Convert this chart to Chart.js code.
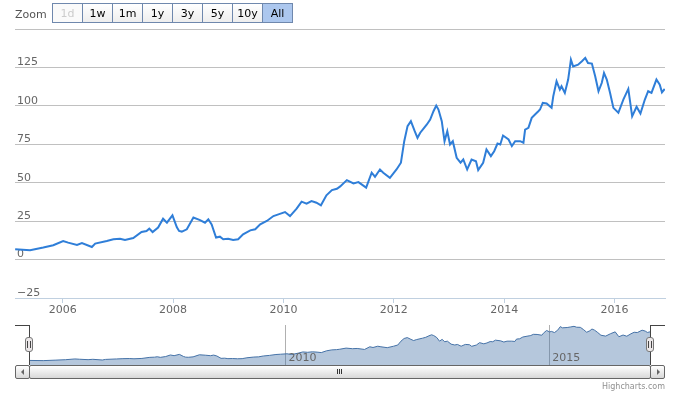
<!DOCTYPE html>
<html>
<head>
<meta charset="utf-8">
<script src="https://cdn.jsdelivr.net/npm/chart.js@4.4.0/dist/chart.umd.min.js"></script>
<style>
body { margin: 0; background: #fff; }
#wrap { position: relative; width: 673px; height: 395px; overflow: hidden; font-family: "DejaVu Sans", sans-serif; }
#main { position: absolute; left: 0; top: 0; }
#nav { position: absolute; left: 0; top: 320px; }
#zoomLbl { position: absolute; left: 15px; top: 8px; font-size: 11px; color: #555; line-height: 14px; }
.btn { position: absolute; top: 3px; width: 31px; height: 20px; box-sizing: border-box; border: 1px solid #6f88ad;
  background: linear-gradient(#ffffff, #eeeeee); font-size: 11px; line-height: 17px; padding-top: 1px; text-align: center; color: #000; }
.btn.off { color: #ccc; background: #fafafa; }
.btn.sel { background: #acc7ee; }
.ln { position: absolute; background: #444; }
.hd { position: absolute; top: 337px; width: 8px; height: 15px; box-sizing: border-box; border: 1px solid #777;
  background: #ebe7e8; border-radius: 3px; }
.sb { position: absolute; top: 365px; height: 14px; box-sizing: border-box; border: 1px solid #666;
  background: linear-gradient(#ffffff, #d8d8d8); border-radius: 2px; }
.arr { position: absolute; top: 3px; width: 0; height: 0; border-top: 3px solid transparent; border-bottom: 3px solid transparent; }
.grip { position: absolute; top: 369px; width: 1px; height: 5px; background: #333; }
#credit { position: absolute; right: 8px; top: 381px; font-size: 8px; color: #909090; line-height: 12px; }
</style>
</head>
<body>
<div id="wrap">
  <canvas id="main" width="673" height="320"></canvas>
  <canvas id="nav" width="673" height="45"></canvas>
  <div id="zoomLbl">Zoom</div>
  <div id="buttons"></div>
  <div id="deco"></div>
  <div id="credit">Highcharts.com</div>
</div>
<script>
// closing price
var years = [
  2005.14,2005.41,2005.65,2005.83,2006.01,2006.10,2006.26,2006.35,2006.53,2006.59,
  2006.80,2006.92,2007.04,2007.13,2007.28,2007.43,2007.52,2007.57,2007.63,2007.73,
  2007.82,2007.89,2007.99,2008.07,2008.11,2008.16,2008.25,2008.37,2008.49,2008.58,
  2008.64,2008.70,2008.78,2008.85,2008.91,2009.00,2009.09,2009.18,2009.27,2009.40,
  2009.49,2009.58,2009.70,2009.82,2009.91,2010.03,2010.12,2010.24,2010.33,2010.42,
  2010.51,2010.60,2010.68,2010.78,2010.88,2010.97,2011.03,2011.15,2011.27,2011.36,
  2011.50,2011.60,2011.66,2011.75,2011.81,2011.93,2012.05,2012.13,2012.19,2012.25,
  2012.31,2012.38,2012.43,2012.48,2012.55,2012.60,2012.66,2012.72,2012.77,2012.81,
  2012.87,2012.92,2012.97,2013.02,2013.07,2013.14,2013.21,2013.26,2013.33,2013.41,
  2013.49,2013.53,2013.62,2013.68,2013.76,2013.82,2013.88,2013.93,2013.98,2014.08,
  2014.14,2014.20,2014.29,2014.35,2014.38,2014.44,2014.50,2014.56,2014.62,2014.65,
  2014.70,2014.77,2014.86,2014.89,2014.95,2015.01,2015.04,2015.10,2015.16,2015.21,
  2015.25,2015.34,2015.41,2015.47,2015.52,2015.59,2015.65,2015.71,2015.77,2015.81,
  2015.86,2015.92,2015.98,2016.07,2016.16,2016.25,2016.32,2016.40,2016.47,2016.55,
  2016.61,2016.67,2016.76,2016.82,2016.86,2016.91
];
var prices = [
  6.7,6.0,7.8,9.3,12.1,11.0,9.5,10.8,8.2,10.4,
  12.1,13.2,13.6,12.7,14.0,17.9,18.6,20.1,17.9,20.8,
  26.6,24.0,28.8,21.0,18.6,18.2,19.7,27.3,25.7,24.0,
  26.2,22.9,14.3,14.9,13.2,13.6,12.7,13.2,16.4,19.0,
  19.7,22.9,25.1,28.3,29.4,30.9,28.3,33.1,37.7,36.4,
  38.1,37.0,35.3,41.8,45.2,46.1,47.6,51.7,49.5,50.4,
  46.8,56.5,53.9,58.6,56.5,53.2,58.6,63.0,77.0,86.8,
  90.0,83.5,79.2,82.5,85.7,87.9,91.1,96.5,100.2,97.6,
  90.0,77.0,83.5,74.9,77.0,66.2,63.0,65.1,58.6,65.1,
  64.0,58.2,63.0,71.6,67.3,70.5,75.5,74.9,80.7,78.1,
  73.8,77.0,77.0,76.0,84.6,85.7,92.2,94.4,96.5,97.6,
  101.9,101.5,98.7,106.2,116.0,110.6,112.7,108.4,117.1,130.1,
  125.7,126.8,129.0,131.2,127.9,127.5,119.2,109.5,115.0,121.4,
  117.1,108.4,98.7,95.5,104.1,111.0,93.2,99.4,95.0,104.1,
  109.5,108.4,117.1,113.8,108.8,111.0
];
var xTicks = [2006, 2008, 2010, 2012, 2014, 2016];
var yTicks = [-25, 0, 25, 50, 75, 100, 125, 150];
var navTicks = [2010, 2015];
var zoomButtons = ['1d', '1w', '1m', '1y', '3y', '5y', '10y', 'All'];

var points = years.map(function (x, i) { return { x: x, y: prices[i] }; });
var labelFont = { family: 'DejaVu Sans', size: 11 };

// range selector buttons
var btnBox = document.getElementById('buttons');
zoomButtons.forEach(function (t, i) {
  var b = document.createElement('div');
  b.className = 'btn' + (i === 0 ? ' off' : '') + (t === 'All' ? ' sel' : '');
  b.style.left = (52 + i * 30) + 'px';
  b.textContent = t;
  btnBox.appendChild(b);
});

// main chart
var myChart = new Chart(document.getElementById('main'), {
  type: 'line',
  data: {
    datasets: [{
      data: points,
      borderColor: '#2f7ed8',
      borderWidth: 2,
      pointRadius: 0,
      tension: 0,
      fill: false
    }]
  },
  options: {
    responsive: false,
    animation: false,
    devicePixelRatio: 1,
    layout: { padding: { left: 15, right: 8, top: 29, bottom: 0 } },
    plugins: { legend: { display: false }, tooltip: { enabled: false } },
    scales: {
      x: {
        type: 'linear',
        min: 2005.137,
        max: 2016.915,
        afterBuildTicks: function (s) { s.ticks = xTicks.map(function (v) { return { value: v }; }); },
        afterFit: function (s) { s.height = 22; },
        grid: { drawOnChartArea: false, drawTicks: true, tickLength: 5, color: '#C0D0E0' },
        border: { color: '#C0D0E0' },
        ticks: {
          color: '#666', font: labelFont, maxRotation: 0, autoSkip: false, padding: 1,
          callback: function (v) { return String(v); }
        }
      },
      y: {
        min: -25,
        max: 150,
        afterBuildTicks: function (s) { s.ticks = yTicks.map(function (v) { return { value: v }; }); },
        afterFit: function (s) { s.width = 0; },
        grid: {
          drawTicks: false,
          color: function (c) { return c.tick && c.tick.value === -25 ? '#C0D0E0' : '#C0C0C0'; }
        },
        border: { display: false },
        ticks: {
          mirror: true, padding: 2, labelOffset: -5, color: '#666', font: labelFont,
          callback: function (v) { return v === 150 ? '' : (v < 0 ? '\u2212' + (-v) : String(v)); }
        }
      }
    }
  }
});

// navigator year labels, placed through the navigator x scale
var navLabels = {
  id: 'navLabels',
  afterDatasetsDraw: function (chart) {
    var ctx = chart.ctx, sx = chart.scales.x;
    ctx.save();
    ctx.font = '11px "DejaVu Sans"';
    ctx.fillStyle = '#666';
    ctx.textBaseline = 'alphabetic';
    navTicks.forEach(function (v) {
      ctx.fillText(String(v), sx.getPixelForValue(v) + 3, chart.chartArea.bottom - 4);
    });
    ctx.restore();
  }
};

var navChart = new Chart(document.getElementById('nav'), {
  type: 'line',
  data: {
    datasets: [{
      data: points,
      borderColor: '#4572A7',
      borderWidth: 1,
      backgroundColor: 'rgba(69,114,167,0.4)',
      fill: 'start',
      pointRadius: 0,
      tension: 0
    }]
  },
  options: {
    responsive: false,
    animation: false,
    devicePixelRatio: 1,
    layout: { padding: { left: 29, right: 23, top: 5, bottom: 0 } },
    plugins: { legend: { display: false }, tooltip: { enabled: false } },
    scales: {
      x: {
        type: 'linear',
        min: years[0],
        max: years[years.length - 1],
        afterBuildTicks: function (s) { s.ticks = navTicks.map(function (v) { return { value: v }; }); },
        afterFit: function (s) { s.height = 0; },
        grid: { drawTicks: false, color: '#B0B0B0' },
        border: { display: false },
        ticks: { display: false }
      },
      y: { display: false, min: -10, max: 136 }
    }
  },
  plugins: [navLabels]
});

// navigator outline, handles and scrollbar
var deco = document.getElementById('deco');
function box(cls, css, parent) {
  var d = document.createElement('div');
  d.className = cls;
  d.style.cssText = css;
  (parent || deco).appendChild(d);
  return d;
}
box('ln', 'left:15px;top:325px;width:15px;height:1px;');
box('ln', 'left:29px;top:325px;width:1px;height:40px;');
box('ln', 'left:650px;top:325px;width:1px;height:40px;');
box('ln', 'left:650px;top:325px;width:15px;height:1px;');

var sbL = box('sb', 'left:15px;width:15px;');
var sbR = box('sb', 'left:650px;width:15px;');
box('sb', 'left:29px;width:622px;');
box('arr', 'left:5px;border-right:3px solid #666;', sbL);
box('arr', 'left:6px;border-left:3px solid #666;', sbR);
[337, 339, 341].forEach(function (x) { box('grip', 'left:' + x + 'px;'); });

[29, 650].forEach(function (cx) {
  var h = box('hd', 'left:' + (cx - 4) + 'px;');
  box('', 'position:absolute;top:3px;left:1px;width:1px;height:7px;background:#444;', h);
  box('', 'position:absolute;top:3px;left:4px;width:1px;height:7px;background:#444;', h);
});
</script>
</body>
</html>
